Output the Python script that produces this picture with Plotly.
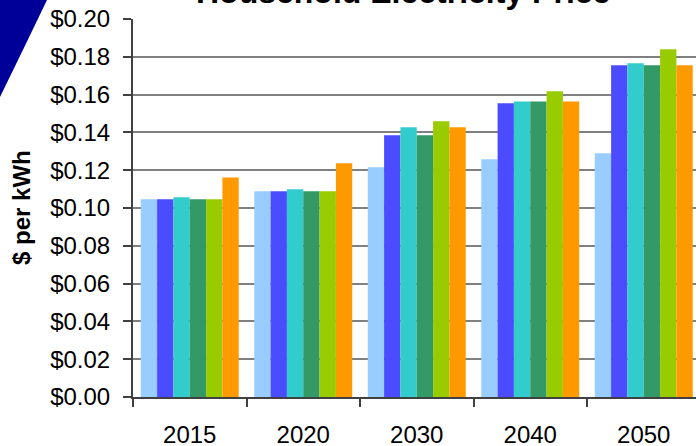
import plotly.graph_objects as go

years = ["2015", "2020", "2030", "2040", "2050"]
series_names = ["Series 1", "Series 2", "Series 3", "Series 4", "Series 5", "Series 6"]
s1 = [0.1046, 0.1088, 0.1215, 0.1258, 0.1290]
s2 = [0.1046, 0.1088, 0.1385, 0.1554, 0.1755]
s3 = [0.1057, 0.1099, 0.1427, 0.1564, 0.1766]
s4 = [0.1046, 0.1088, 0.1385, 0.1564, 0.1755]
s5 = [0.1046, 0.1088, 0.1459, 0.1618, 0.1840]
s6 = [0.1162, 0.1237, 0.1427, 0.1564, 0.1755]
colors = ["#99CCFF", "#4B4BFF", "#33CCCC", "#339966", "#99CC00", "#FF9900"]
y_ticks = [0.00, 0.02, 0.04, 0.06, 0.08, 0.10, 0.12, 0.14, 0.16, 0.18, 0.20]

FONT = "Liberation Sans, Arial, sans-serif"

fig = go.Figure()
for name, vals, col in zip(series_names, [s1, s2, s3, s4, s5, s6], colors):
    fig.add_trace(go.Bar(x=years, y=vals, name=name, marker=dict(color=col, line=dict(width=0))))

W, H = 696, 446
L, R, T, B = 133, 0, 19, 49
pw = W - L - R
ph = H - T - B

def px2paper(x, y):
    return (x - L) / pw, (H - B - y) / ph

# decorative blue swoosh at top-left
pts = [(0, 0), (47, 0), (30, 33), (15, 67), (0, 97)]
pp = [px2paper(x, y) for x, y in pts]
cq = px2paper(24, 48)
path = (f"M {pp[0][0]},{pp[0][1]} L {pp[1][0]},{pp[1][1]} "
        f"Q {cq[0]},{cq[1]} {pp[4][0]},{pp[4][1]} Z")

cat_w = 113.5
span = pw / cat_w

fig.update_layout(
    width=W, height=H,
    margin=dict(l=L, r=R, t=T, b=B, autoexpand=False),
    paper_bgcolor="white", plot_bgcolor="white",
    showlegend=False,
    barmode="group", bargap=0.137, bargroupgap=0,
    font=dict(family=FONT, size=24, color="black"),
    shapes=[dict(type="path", path=path, xref="paper", yref="paper",
                 fillcolor="#000099", line=dict(width=0), layer="above")],
    annotations=[
        dict(text="<b>Household Electricity Price</b>", xref="paper", yref="paper",
             x=(402.5 - L) / pw, y=1, xanchor="center", yanchor="middle", yshift=27,
             showarrow=False, font=dict(family=FONT, size=32, color="black")),
        dict(text="<b>$ per kWh</b>", xref="paper", yref="paper",
             x=(21 - L) / pw, y=0.5, xanchor="center", yanchor="middle", textangle=-90,
             showarrow=False, font=dict(family=FONT, size=24, color="black")),
    ],
)
fig.update_xaxes(
    type="category", range=[-0.5, -0.5 + span],
    tickson="boundaries", ticks="outside", ticklen=8, tickwidth=2, tickcolor="#404040",
    showline=True, linecolor="#404040", linewidth=2,
    showgrid=False, ticklabelstandoff=15,
    tickfont=dict(family=FONT, size=24, color="black"),
)
fig.update_yaxes(
    range=[0, 0.2], tickvals=y_ticks, tickformat="$.2f",
    ticks="outside", ticklen=8, tickwidth=2, tickcolor="#404040",
    showline=True, linecolor="#404040", linewidth=2,
    showgrid=True, gridcolor="#808080", gridwidth=2,
    zeroline=False, ticklabelstandoff=8,
    tickfont=dict(family=FONT, size=24, color="black"),
)

fig.write_html("out.html", config={"displayModeBar": False},
               post_script="document.body.style.margin='0';document.body.style.overflow='hidden';")
